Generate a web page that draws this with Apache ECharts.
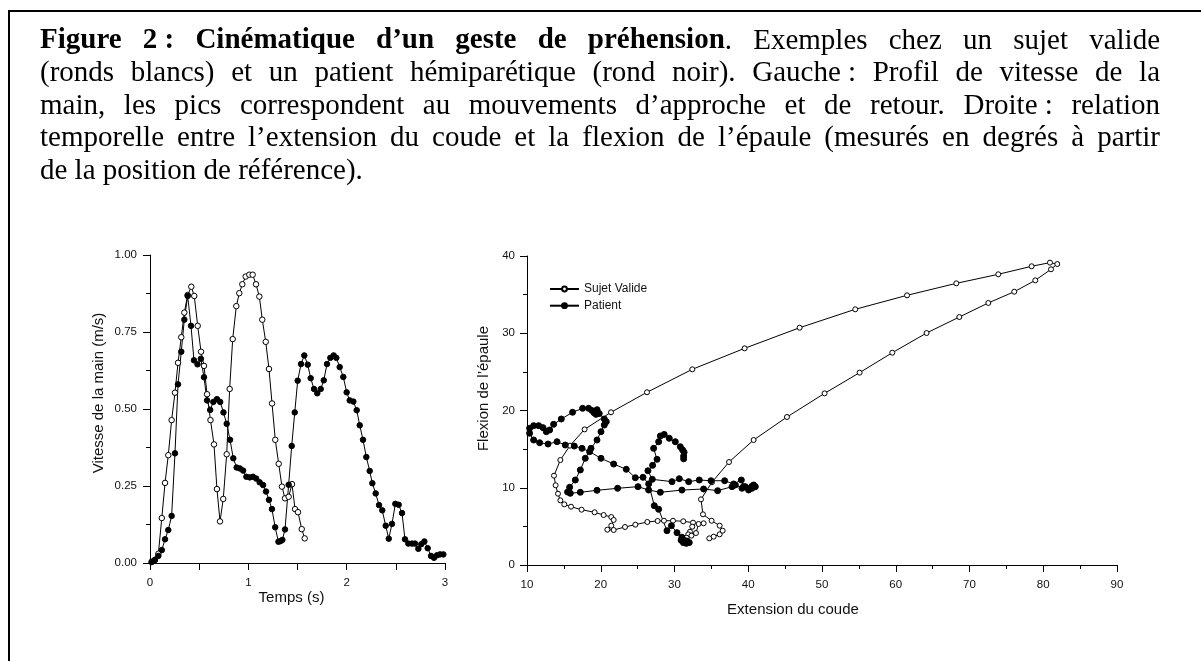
<!DOCTYPE html>
<html>
<head>
<meta charset="utf-8">
<script src="https://cdn.jsdelivr.net/npm/echarts@6/dist/echarts.min.js"></script>
<style>
  html, body { margin: 0; padding: 0; background: #fff; }
  #fig { width: 1201px; height: 661px; }
</style>
</head>
<body>
<div id="fig"></div>
<script>
// --- caption ---
const captionBold = 'Figure 2\u00a0: Cinématique d’un geste de préhension';
const captionLines = [
  'Figure 2\u00a0: Cinématique d’un geste de préhension. Exemples chez un sujet valide',
  '(ronds blancs) et un patient hémiparétique (rond noir). Gauche\u00a0: Profil de vitesse de la',
  'main, les pics correspondent au mouvements d’approche et de retour. Droite\u00a0: relation',
  'temporelle entre l’extension du coude et la flexion de l’épaule (mesurés en degrés à partir',
  'de la position de référence).'
];

// --- gauche : vitesse de la main ---
const tempsValide = [0.017,0.05,0.085,0.12,0.153,0.186,0.22,0.254,0.285,0.318,0.349,0.383,0.42,0.45,0.485,0.519,0.549,0.58,0.615,0.651,0.681,0.712,0.745,0.78,0.81,0.841,0.878,0.908,0.939,0.973,1.01,1.044,1.078,1.112,1.142,1.177,1.21,1.241,1.274,1.309,1.342,1.373,1.41,1.444,1.475,1.505,1.543,1.573];
const vitesseValide = [0.004,0.01,0.03,0.146,0.26,0.35,0.464,0.553,0.65,0.733,0.813,0.87,0.897,0.867,0.77,0.686,0.64,0.548,0.464,0.385,0.24,0.135,0.208,0.353,0.565,0.727,0.834,0.876,0.905,0.93,0.936,0.936,0.905,0.865,0.79,0.718,0.63,0.518,0.40,0.322,0.248,0.21,0.215,0.256,0.175,0.165,0.11,0.08];
const tempsPatient = [0.017,0.05,0.085,0.12,0.153,0.186,0.22,0.254,0.285,0.318,0.349,0.383,0.417,0.447,0.483,0.517,0.549,0.58,0.612,0.644,0.681,0.714,0.747,0.78,0.814,0.847,0.881,0.914,0.947,0.98,1.014,1.047,1.08,1.115,1.15,1.18,1.21,1.24,1.273,1.306,1.326,1.346,1.373,1.41,1.441,1.472,1.502,1.536,1.569,1.604,1.634,1.668,1.701,1.736,1.767,1.80,1.834,1.868,1.895,1.929,1.966,2.0,2.031,2.068,2.102,2.133,2.166,2.2,2.234,2.261,2.295,2.329,2.362,2.397,2.428,2.461,2.495,2.529,2.563,2.593,2.627,2.664,2.695,2.729,2.759,2.79,2.824,2.858,2.888,2.919,2.949,2.983];
const vitessePatient = [0.003,0.01,0.023,0.042,0.077,0.107,0.153,0.356,0.58,0.686,0.79,0.867,0.77,0.658,0.645,0.663,0.603,0.528,0.497,0.523,0.532,0.523,0.489,0.452,0.40,0.34,0.31,0.307,0.30,0.28,0.278,0.28,0.274,0.262,0.253,0.232,0.205,0.175,0.116,0.069,0.071,0.075,0.109,0.254,0.38,0.489,0.592,0.646,0.674,0.644,0.60,0.565,0.551,0.565,0.593,0.646,0.666,0.674,0.666,0.636,0.604,0.554,0.528,0.524,0.496,0.447,0.40,0.344,0.299,0.259,0.226,0.188,0.171,0.121,0.079,0.127,0.192,0.189,0.162,0.077,0.063,0.063,0.063,0.046,0.061,0.07,0.048,0.023,0.017,0.025,0.028,0.028];

// --- droite : extension du coude / flexion de l'epaule ---
const extValide = [34.72,35.31,36.12,36.53,36.12,35.03,33.86,33.59,35.08,37.39,40.73,45.25,50.35,55.1,59.53,64.18,68.62,72.55,76.07,78.92,81.05,81.9,80.91,78.42,73.9,68.21,61.53,54.51,46.97,39.51,32.41,26.27,21.39,17.81,15.83,14.52,13.66,13.88,14.2,14.52,15.06,15.97,17.4,19.17,20.39,21.43,21.75,21.43,20.89,21.75,23.29,24.69,26.31,27.71,28.57,29.8,31.19,32.51,32.41,32.1,31.87,31.64,32.3,32.91,33.27,33.95];
const flexValide = [3.45,3.67,3.97,4.44,5.09,5.73,6.56,8.5,10.71,13.33,16.18,19.16,22.22,24.9,27.48,30.03,32.1,33.92,35.38,36.85,38.28,38.96,39.14,38.67,37.63,36.46,34.91,33.1,30.72,28.05,25.33,22.36,19.77,17.56,15.45,13.59,11.56,10.32,9.23,8.37,7.85,7.55,7.16,6.82,6.47,6.21,5.83,5.09,4.57,4.53,4.92,5.22,5.57,5.7,5.73,5.73,5.66,5.48,4.96,4.31,3.97,3.53,3.8,4.14,5.31,5.4];
const extPatient = [31.24,31.24,31.3,31.1,30.79,30.11,29.29,28.6,28.08,27.85,27.17,27.63,27.03,26.4,26.99,29.66,30.65,31.92,33.36,34.95,36.8,38.02,39.06,39.37,39.6,40.05,40.5,40.96,40.73,40.5,40.05,39.15,38.25,37.8,35.85,33.95,31.0,28.08,26.49,25.05,22.29,19.49,17.23,15.87,15.5,15.78,16.55,17.23,17.9,18.68,19.49,20.03,20.48,20.75,20.48,19.8,19.36,19.5,19.1,18.8,18.35,17.54,16.18,14.65,13.61,13.07,12.62,12.17,11.58,10.9,10.35,10.35,10.9,11.71,12.85,14.07,15.19,16.41,17.46,18.49,20.03,21.75,23.46,24.69,25.73,26.5,27.26,27.85,28.98,29.58,30.34,31.0,30.9,31.2,31.6,32.0,31.7,31.3];
const flexPatient = [13.74,14.1,14.6,14.89,15.31,15.96,16.4,16.9,16.7,15.96,15.1,13.68,12.9,12.2,11.09,10.79,11.17,10.79,11.0,10.91,10.91,10.49,11.0,10.14,10.14,9.71,9.93,10.14,10.36,10.2,9.9,9.93,10.36,10.14,9.62,9.84,9.7,9.41,9.71,10.14,9.93,9.67,9.41,9.28,9.45,10.06,11.0,12.3,13.81,15.1,16.18,17.26,18.12,18.55,18.9,19.6,19.5,20.1,19.7,20.0,20.28,20.28,19.77,18.9,18.21,17.48,17.26,17.78,18.04,18.04,17.69,17.05,16.18,15.83,15.66,15.96,15.53,15.4,15.1,14.67,13.81,13.07,12.39,11.3,11.35,10.5,7.68,7.21,4.44,5.09,4.19,3.6,3.2,2.9,2.8,2.9,3.1,3.2];

function zip(a, b) {
  const out = [];
  for (let i = 0; i < Math.min(a.length, b.length); i++) out.push([a[i], b[i]]);
  return out;
}

// caption laid out word by word so every line but the last is justified
const capFamily = 'Liberation Serif';
const capSize = 29;
const capLeft = 40, capRight = 1160, capTop = 41, capStep = 32.5;

function captionGraphics() {
  const ctx = document.createElement('canvas').getContext('2d');
  const fontOf = bold => (bold ? 'bold ' : '') + capSize + 'px "' + capFamily + '"';
  const measure = (txt, bold) => { ctx.font = fontOf(bold); return ctx.measureText(txt).width; };
  const els = [];
  captionLines.forEach((line, li) => {
    const boldLen = li === 0 ? captionBold.length : 0;
    let pos = 0;
    const words = line.split(' ').map(w => {
      const segs = [];
      const cut = Math.max(0, Math.min(w.length, boldLen - pos));
      if (cut > 0) segs.push({ text: w.slice(0, cut), bold: true });
      if (cut < w.length) segs.push({ text: w.slice(cut), bold: false });
      pos += w.length + 1;
      segs.forEach(s => { s.w = measure(s.text, s.bold); });
      return { segs, w: segs.reduce((s, x) => s + x.w, 0) };
    });
    const total = words.reduce((s, w) => s + w.w, 0);
    const last = li === captionLines.length - 1;
    const gap = last ? measure(' ', false) : (capRight - capLeft - total) / (words.length - 1);
    let x = capLeft;
    const y = capTop + li * capStep;
    words.forEach(w => {
      w.segs.forEach(s => {
        els.push({
          type: 'text', x: x, y: y, silent: true,
          style: { text: s.text, font: fontOf(s.bold), fill: '#000', align: 'left', verticalAlign: 'middle' }
        });
        x += s.w;
      });
      x += gap;
    });
  });
  return els;
}

const axisFont = 'Liberation Sans';
function axisBase(extra) {
  return Object.assign({
    type: 'value',
    axisLine: { show: true, onZero: false, lineStyle: { color: '#000', width: 1 } },
    axisTick: { show: true, length: 7, lineStyle: { color: '#000', width: 1 } },
    splitLine: { show: false }
  }, extra);
}
const minor = { show: true, splitNumber: 2, length: 4, lineStyle: { color: '#000', width: 1 } };
const tickLabel = (margin, formatter) => ({ color: '#111', fontFamily: axisFont, fontSize: 11.5, margin, formatter });
const nameStyle = padding => ({ color: '#111', fontFamily: axisFont, fontSize: 15, padding });

const chart = echarts.init(document.getElementById('fig'), null, { renderer: 'canvas' });
const option = {
  animation: false,
  backgroundColor: '#fff',
  graphic: [
    { type: 'rect', silent: true, shape: { x: 9, y: 11, width: 1400, height: 900 },
      style: { fill: 'none', stroke: '#000', lineWidth: 2 } }
  ].concat(captionGraphics()),
  legend: {
    data: ['Sujet Valide', 'Patient'],
    orient: 'vertical',
    left: 549, top: 283, padding: 0,
    itemWidth: 29, itemHeight: 6, itemGap: 4.7,
    textStyle: { color: '#111', fontFamily: axisFont, fontSize: 12, lineHeight: 12 }
  },
  grid: [
    { left: 150, top: 255, width: 295, height: 308 },
    { left: 527, top: 256, width: 590, height: 309 }
  ],
  xAxis: [
    axisBase({
      gridIndex: 0, min: 0, max: 3, interval: 0.5,
      axisLabel: tickLabel(14, v => (Number.isInteger(v) ? String(v) : '')),
      name: 'Temps (s)', nameLocation: 'middle', nameGap: 23,
      nameTextStyle: nameStyle([0, 12, 0, 0])
    }),
    axisBase({
      gridIndex: 1, min: 10, max: 90, interval: 10, minorTick: minor,
      axisLabel: tickLabel(14),
      name: 'Extension du coude', nameLocation: 'middle', nameGap: 37,
      nameTextStyle: nameStyle([0, 58, 0, 0])
    })
  ],
  yAxis: [
    axisBase({
      gridIndex: 0, min: 0, max: 1, interval: 0.25, minorTick: minor,
      axisLabel: tickLabel(13, v => v.toFixed(2)),
      name: 'Vitesse de la main (m/s)', nameLocation: 'middle', nameGap: 44,
      nameTextStyle: nameStyle([0, 0, 0, 32])
    }),
    axisBase({
      gridIndex: 1, min: 0, max: 40, interval: 10, minorTick: minor,
      axisLabel: tickLabel(12),
      name: 'Flexion de l’épaule', nameLocation: 'middle', nameGap: 36,
      nameTextStyle: nameStyle([0, 0, 0, 44])
    })
  ],
  series: [
    {
      name: 'Vitesse sujet valide', type: 'line', xAxisIndex: 0, yAxisIndex: 0,
      data: zip(tempsValide, vitesseValide),
      symbol: 'circle', symbolSize: 5.5,
      lineStyle: { color: '#000', width: 1 },
      itemStyle: { color: '#fff', borderColor: '#000', borderWidth: 1 }
    },
    {
      name: 'Vitesse patient', type: 'line', xAxisIndex: 0, yAxisIndex: 0,
      data: zip(tempsPatient, vitessePatient),
      symbol: 'circle', symbolSize: 5.5,
      lineStyle: { color: '#000', width: 1 },
      itemStyle: { color: '#000', borderColor: '#000', borderWidth: 1 }
    },
    {
      name: 'Sujet Valide', type: 'line', xAxisIndex: 1, yAxisIndex: 1,
      data: zip(extValide, flexValide),
      symbol: 'circle', symbolSize: 5,
      lineStyle: { color: '#000', width: 1 },
      itemStyle: { color: '#fff', borderColor: '#000', borderWidth: 1 }
    },
    {
      name: 'Patient', type: 'line', xAxisIndex: 1, yAxisIndex: 1,
      data: zip(extPatient, flexPatient),
      symbol: 'circle', symbolSize: 6,
      lineStyle: { color: '#000', width: 1 },
      itemStyle: { color: '#000', borderColor: '#000', borderWidth: 1 }
    }
  ]
};
chart.setOption(option);
</script>
</body>
</html>
